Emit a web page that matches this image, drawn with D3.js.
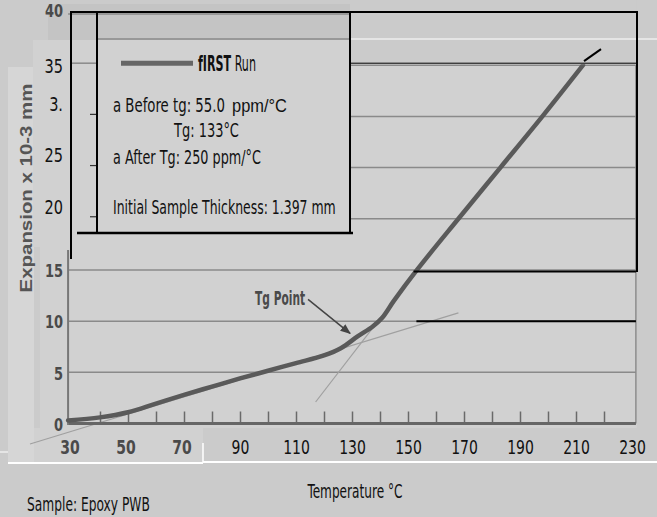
<!DOCTYPE html>
<html>
<head>
<meta charset="utf-8">
<script src="https://cdn.jsdelivr.net/npm/d3@7"></script>
<style>
  body { margin: 0; background: #cbcbcb; }
  svg { display: block; }
</style>
</head>
<body>
<script>
// expansion curve
var temps = [28.6, 40, 50, 60, 70, 80, 90, 100, 110, 120, 126, 132, 137.5, 140.7, 145, 153.2, 168, 183, 198, 212.5];
var expansion = [0.3, 0.6, 1.1, 1.95, 2.8, 3.6, 4.4, 5.15, 5.9, 6.65, 7.35, 8.5, 9.5, 10.3, 12, 15, 20, 25, 30, 35];

// tangent construction lines
var beforeT = [15, 168], beforeV = [-2.0, 10.8];
var afterT = [117, 141], afterV = [2.1, 10.6];

var xTicks = [30, 50, 70, 90, 110, 130, 150, 170, 190, 210, 230];
var xMinor = [40, 50, 60, 70, 80, 90, 100, 110, 120, 130, 140, 150, 160, 170, 180, 190, 200, 210, 220];
var yTicks = [0, 5, 10, 15, 20, 25, 30, 35, 40];
var yTickLabels = ["0", "5", "10", "15", "20", "25", "3.", "35", "40"];

var legendLines = [
  "a Before tg: 55.0",
  "Tg: 133°C",
  "a After Tg: 250 ppm/°C",
  "Initial Sample Thickness: 1.397 mm"
];
var tgPoint = {t: 129.3, v: 8.8};

var W = 657, H = 517;
var narrow = "'Liberation Sans Narrow', 'DejaVu Sans Condensed', sans-serif";
var scanInk = "#4a4a4a";

// squeeze a text horizontally to a given width (the scan font is very condensed)
function squeeze(sel, widthFn, extra) {
    sel.each(function(d, i) {
        var n = this.getComputedTextLength();
        var s = widthFn(d, i) / n;
        var tx = +this.getAttribute("x") || 0, ty = +this.getAttribute("y") || 0;
        d3.select(this).attr("x", 0).attr("y", 0)
            .attr("transform", "translate(" + tx + "," + ty + ")" + (extra || "") + " scale(" + s + ",1)");
    });
}

var x = d3.scaleLinear().domain([30, 230]).range([72, 632]);
var y = d3.scaleLinear().domain([0, 40]).range([423.5, 14]);
var x0 = x(28.6), x1 = x(231.4);

var svg = d3.select("body").append("svg")
    .attr("width", W)
    .attr("height", H);

// scanned pieces of paper
svg.append("rect").attr("x", 40).attr("y", 63).attr("width", x1 + 1 - 40).attr("height", 365).attr("fill", "#d1d1d1");
svg.append("rect").attr("x", 8).attr("y", 428).attr("width", 195).attr("height", 35).attr("fill", "#d1d1d1");
svg.append("rect").attr("x", 8).attr("y", 67).attr("width", 26).attr("height", 396).attr("fill", "#d6d6d6");
svg.append("rect").attr("x", 48).attr("y", 4).attr("width", 302).attr("height", 36).attr("fill", "#c4c4c4");

// gridlines
svg.append("g").selectAll("line.grid")
    .data(yTicks.slice(1))
    .enter().append("line")
    .attr("class", "grid")
    .attr("x1", x0).attr("x2", x1)
    .attr("y1", function(d) { return y(d); })
    .attr("y2", function(d) { return y(d); })
    .attr("stroke", "#8a8a8a")
    .attr("stroke-width", 1.5);

// right edge of plot
svg.append("line")
    .attr("x1", x1).attr("x2", x1).attr("y1", y(35)).attr("y2", y(0))
    .attr("stroke", "#8a8a8a").attr("stroke-width", 1.5);

// tangent lines
var line = d3.line()
    .x(function(d) { return x(d[0]); })
    .y(function(d) { return y(d[1]); });

svg.append("path")
    .attr("d", line(d3.zip(beforeT, beforeV)))
    .attr("fill", "none").attr("stroke", "#a0a0a0").attr("stroke-width", 1.2);
svg.append("path")
    .attr("d", line(d3.zip(afterT, afterV)))
    .attr("fill", "none").attr("stroke", "#a0a0a0").attr("stroke-width", 1.2);

// x axis with inward ticks
svg.append("g")
    .attr("transform", "translate(0," + y(0) + ")")
    .call(d3.axisBottom(x).tickValues(xMinor).tickSizeInner(-12).tickSizeOuter(0).tickFormat(""))
    .call(function(g) {
        g.select(".domain").remove();
        g.selectAll(".tick line").attr("stroke", "#6a6a6a").attr("stroke-width", 1.5);
    });
svg.append("line")
    .attr("x1", x0).attr("x2", x1).attr("y1", y(0)).attr("y2", y(0))
    .attr("stroke", "#666").attr("stroke-width", 3);
svg.append("line")
    .attr("x1", x0).attr("x2", x0).attr("y1", 250).attr("y2", y(0) + 1.5)
    .attr("stroke", "#777").attr("stroke-width", 2);

// main curve
var curve = d3.line()
    .x(function(d) { return x(d[0]); })
    .y(function(d) { return y(d[1]); })
    .curve(d3.curveCatmullRom.alpha(0.5));

svg.append("path")
    .attr("d", curve(d3.zip(temps, expansion)))
    .attr("fill", "none")
    .attr("stroke", "#5a5a5a")
    .attr("stroke-width", 4.5)
    .attr("stroke-linecap", "round");

// Tg point annotation
svg.append("defs").append("marker")
    .attr("id", "arrow")
    .attr("viewBox", "0 0 10 10")
    .attr("refX", 9).attr("refY", 5)
    .attr("markerWidth", 7).attr("markerHeight", 7)
    .attr("orient", "auto")
    .append("path").attr("d", "M0,1 L10,5 L0,9 Z").attr("fill", "#444");

svg.append("line")
    .attr("x1", x(tgPoint.t) - 42).attr("y1", y(tgPoint.v) - 34)
    .attr("x2", x(tgPoint.t)).attr("y2", y(tgPoint.v))
    .attr("stroke", "#444").attr("stroke-width", 1.5)
    .attr("marker-end", "url(#arrow)");
svg.append("text")
    .attr("x", x(tgPoint.t) - 45).attr("y", y(tgPoint.v) - 28)
    .attr("text-anchor", "end")
    .attr("font-family", narrow).attr("font-weight", "bold").attr("font-size", 19)
    .attr("fill", scanInk)
    .text("Tg Point")
    .call(squeeze, function() { return 50; });

// legend cover
svg.append("rect").attr("x", 33).attr("y", 40).attr("width", 317).attr("height", 207).attr("fill", "#d1d1d1");
svg.append("rect").attr("x", x1 + 1).attr("y", 0).attr("width", W - x1).attr("height", H).attr("fill", "#cbcbcb");
svg.append("rect").attr("x", 350).attr("y", 0).attr("width", x1 + 1 - 350).attr("height", y(35) - 1).attr("fill", "#cbcbcb");

// bits of grid left showing inside the box
svg.append("line")
    .attr("x1", 72).attr("x2", 97).attr("y1", y(35) - 2).attr("y2", y(35) - 2)
    .attr("stroke", "#8a8a8a").attr("stroke-width", 1.5);
svg.append("g").selectAll("line.dash")
    .data([20, 25, 30])
    .enter().append("line")
    .attr("x1", 90).attr("x2", 96)
    .attr("y1", function(d) { return y(d) - 2; })
    .attr("y2", function(d) { return y(d) - 2; })
    .attr("stroke", "#333").attr("stroke-width", 1.2);

// lines at the top strip
svg.append("line").attr("x1", 97).attr("x2", 350).attr("y1", 39).attr("y2", 39)
    .attr("stroke", "#8a8a8a").attr("stroke-width", 1.5);
svg.append("line").attr("x1", 350).attr("x2", W).attr("y1", 39).attr("y2", 39)
    .attr("stroke", "#fff").attr("stroke-width", 1);

// y axis labels
var yAxis = svg.append("g")
    .attr("transform", "translate(" + x0 + ",0)")
    .call(d3.axisLeft(y).tickValues(yTicks).tickSize(0).tickPadding(6)
        .tickFormat(function(d, i) { return yTickLabels[i]; }));
yAxis.select(".domain").remove();
yAxis.selectAll(".tick text")
    .attr("font-family", narrow)
    .attr("font-size", function(d) { return (d <= 15 || d === 40) ? 17 : 19; })
    .attr("font-weight", function(d) { return (d <= 15 || d === 40) ? "bold" : "normal"; })
    .attr("fill", function(d) { return (d <= 15 || d === 40) ? scanInk : "#111"; })
    .attr("transform", "scale(0.85,1)")
    .attr("dy", function(d) {
        if (d === 40) return "0.15em";
        if (d >= 20 && d <= 30) return "-0.3em";
        return "0.4em";
    });

// x axis labels
var xAxis = svg.append("g")
    .attr("transform", "translate(0," + y(0) + ")")
    .call(d3.axisBottom(x).tickValues(xTicks).tickSize(0).tickPadding(17));
xAxis.select(".domain").remove();
xAxis.selectAll(".tick text")
    .attr("font-family", narrow)
    .attr("font-size", 19)
    .attr("font-weight", function(d) { return d <= 70 ? "bold" : "normal"; })
    .attr("fill", function(d) { return d <= 70 ? scanInk : "#111"; })
    .attr("dx", function(d) { return d <= 70 ? -3 : 0; })
    .attr("transform", "scale(0.82,1)");

// y axis title
svg.append("text")
    .attr("text-anchor", "middle")
    .attr("font-family", "'Liberation Sans', Arial, sans-serif")
    .attr("font-weight", "bold")
    .attr("font-size", 17)
    .attr("fill", "#555")
    .text("Expansion x 10-3 mm")
    .each(function() {
        var s = 209 / this.getComputedTextLength();
        d3.select(this).attr("transform", "translate(32,188) rotate(-90) scale(" + s + ",1)");
    });

// legend
svg.append("line")
    .attr("x1", 121).attr("x2", 193).attr("y1", y(35) - 2).attr("y2", y(35) - 2)
    .attr("stroke", "#666").attr("stroke-width", 5);
svg.append("text")
    .attr("x", 198).attr("y", 71)
    .attr("font-family", narrow).attr("font-size", 21).attr("fill", "#111")
    .html("<tspan font-weight='bold'>fIRST</tspan> Run")
    .call(squeeze, function() { return 58; });

var legendX = [113, 174, 113, 113];
var legendY = [112, 137, 164, 214];
var legendW = [112, 65, 148, 223];
svg.append("g").selectAll("text.legend")
    .data(legendLines)
    .enter().append("text")
    .attr("class", "legend")
    .attr("x", function(d, i) { return legendX[i]; })
    .attr("y", function(d, i) { return legendY[i]; })
    .attr("font-family", narrow)
    .attr("font-size", 20)
    .attr("fill", "#111")
    .text(function(d) { return d; })
    .call(squeeze, function(d, i) { return legendW[i]; });
svg.append("text")
    .attr("x", 232).attr("y", 112)
    .attr("font-family", "'Liberation Sans', Arial, sans-serif")
    .attr("font-size", 18).attr("fill", "#111")
    .text("ppm/°C")
    .call(squeeze, function() { return 55; });

// black traced box lines
var black = svg.append("g").attr("stroke", "#000").attr("fill", "none");
black.append("line").attr("x1", 70).attr("x2", 638).attr("y1", 12).attr("y2", 12).attr("stroke-width", 2);
black.append("line").attr("x1", 71).attr("x2", 71).attr("y1", 11).attr("y2", 259).attr("stroke-width", 2);
black.append("line").attr("x1", 97).attr("x2", 97).attr("y1", 11).attr("y2", 233).attr("stroke-width", 2);
black.append("line").attr("x1", 350).attr("x2", 350).attr("y1", 11).attr("y2", 233).attr("stroke-width", 2);
black.append("line").attr("x1", 77).attr("x2", 353).attr("y1", 233).attr("y2", 233).attr("stroke-width", 2.5);
black.append("line").attr("x1", 637).attr("x2", 637).attr("y1", 11).attr("y2", y(15) + 2).attr("stroke-width", 2);
black.append("line").attr("x1", 350).attr("x2", 637).attr("y1", y(35) - 2).attr("y2", y(35) - 2).attr("stroke-width", 1);
black.append("line").attr("x1", x(152)).attr("x2", x1).attr("y1", y(15) + 1.5).attr("y2", y(15) + 1.5).attr("stroke-width", 2);
black.append("line").attr("x1", x(153)).attr("x2", x1).attr("y1", y(10)).attr("y2", y(10)).attr("stroke-width", 2);
black.append("line")
    .attr("x1", x(temps[temps.length - 1]) + 1).attr("y1", y(35) - 4)
    .attr("x2", x(temps[temps.length - 1]) + 18).attr("y2", y(35) - 16)
    .attr("stroke-width", 2);

// white scan edges at the bottom
var white = svg.append("g").attr("stroke", "#fff");
white.append("line").attr("x1", 8).attr("x2", 203).attr("y1", 463).attr("y2", 463).attr("stroke-width", 2);
white.append("line").attr("x1", 203).attr("x2", 203).attr("y1", 443).attr("y2", 463).attr("stroke-width", 1.5);
white.append("line").attr("x1", 203).attr("x2", W).attr("y1", 462).attr("y2", 462).attr("stroke-width", 2);
white.append("line").attr("x1", 0).attr("x2", 8).attr("y1", 452).attr("y2", 452).attr("stroke-width", 1);

// titles below
svg.append("text")
    .attr("x", 355).attr("y", 498)
    .attr("text-anchor", "middle")
    .attr("font-family", narrow).attr("font-size", 19).attr("fill", "#111")
    .text("Temperature °C")
    .call(squeeze, function() { return 95; });
svg.append("text")
    .attr("x", 27).attr("y", 511)
    .attr("font-family", narrow).attr("font-size", 19).attr("fill", "#111")
    .text("Sample: Epoxy PWB")
    .call(squeeze, function() { return 123; });
</script>
</body>
</html>
